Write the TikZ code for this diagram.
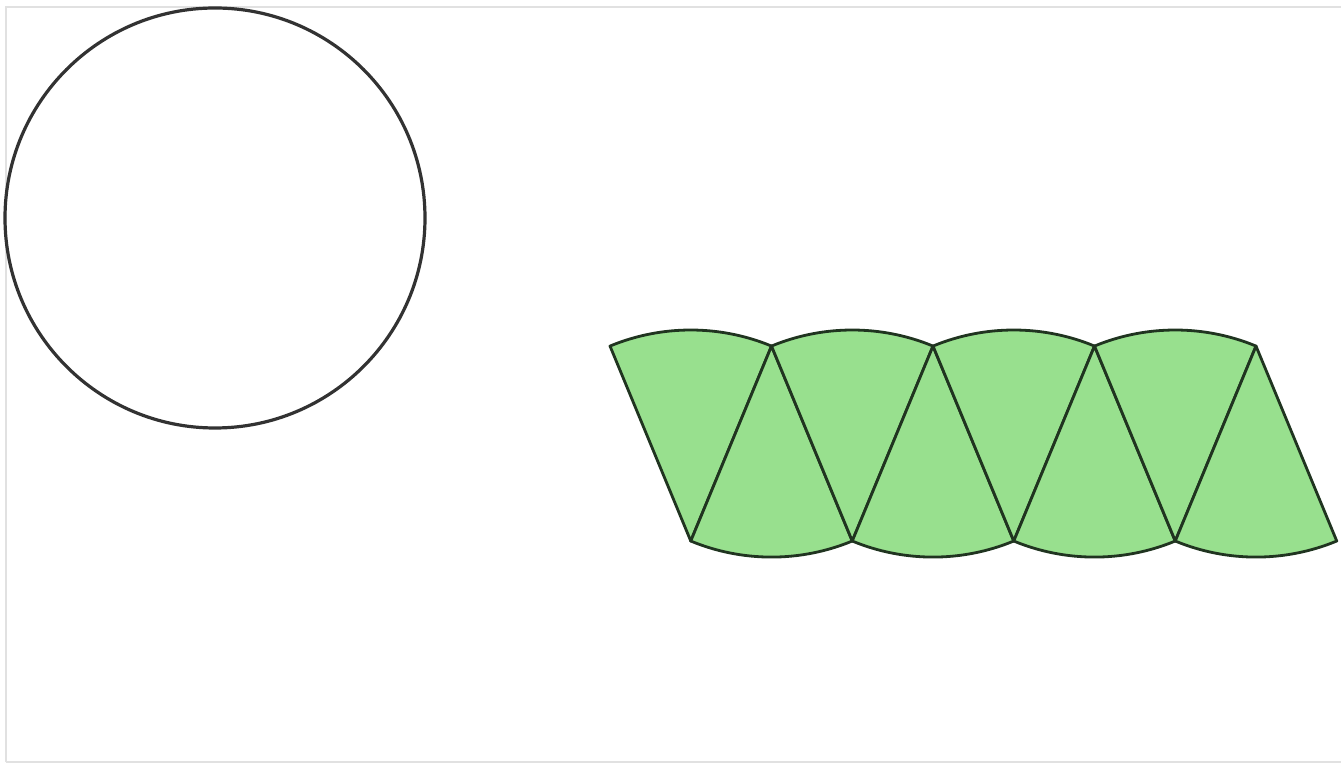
\documentclass[tikz,border=0pt]{standalone}
\definecolor{sectorgreen}{RGB}{152,224,142}
\definecolor{sectorline}{RGB}{32,52,32}
\definecolor{circline}{RGB}{50,50,50}
\definecolor{framegray}{RGB}{225,225,225}
\tikzset{
  sectorstyle/.style={fill=sectorgreen, draw=sectorline, line width=2.8pt, line join=round},
  circstyle/.style={draw=circline, line width=3.2pt},
  framestyle/.style={draw=framegray, line width=1.2pt}
}
\begin{document}
\begin{tikzpicture}[x=1pt,y=1pt]
\useasboundingbox (0,0) rectangle (1341,763);
\fill[white] (0,0) rectangle (1341,763);
\draw[framestyle] (6,1) -- (6,756) -- (1341,756);
\draw[framestyle] (6,1) -- (1341,1);
% circle
\coordinate (C) at (215,545);
\draw[circstyle] (C) circle[radius=210];
% sectors
\def\R{211}
\foreach \k in {0,1,2,3}{
  \pgfmathsetmacro{\xb}{690.75+161.5*\k}
  \pgfmathsetmacro{\xt}{771.5+161.5*\k}
  \coordinate (B\k) at (\xb,222);
  \coordinate (T\k) at (\xt,416.9);
  \draw[sectorstyle] (B\k) -- ++(112.5:\R) arc[start angle=112.5, end angle=67.5, radius=\R] -- cycle;
  \draw[sectorstyle] (T\k) -- ++(-112.5:\R) arc[start angle=-112.5, end angle=-67.5, radius=\R] -- cycle;
}
\end{tikzpicture}
\end{document}
